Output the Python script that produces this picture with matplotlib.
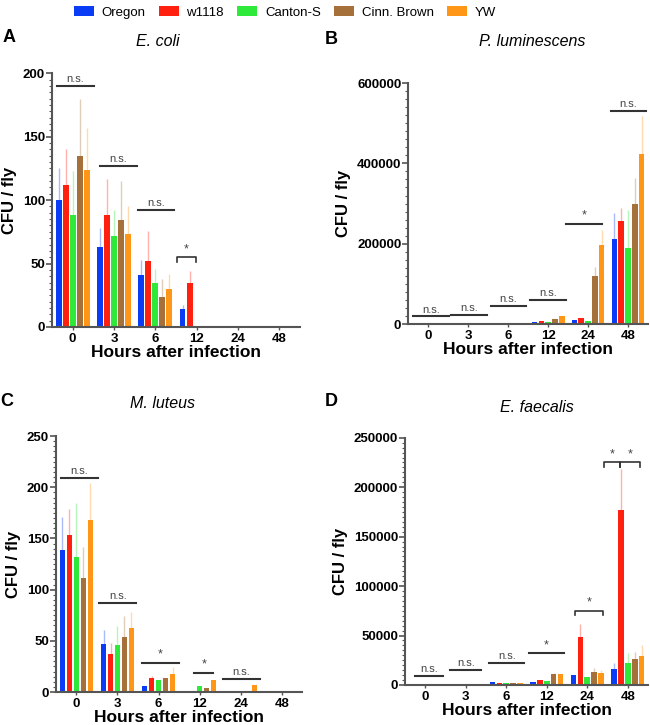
import numpy as np
import matplotlib
matplotlib.use("Agg")
import matplotlib.pyplot as plt
from matplotlib.ticker import AutoMinorLocator
from matplotlib.patches import Patch

plt.rcParams['font.family'] = ['Liberation Sans', 'DejaVu Sans']

hours = ['0', '3', '6', '12', '24', '48']
strains = ['Oregon', 'w1118', 'Canton-S', 'Cinn. Brown', 'YW']
colors = ['#0a3cf5', '#ff2010', '#2ee83a', '#a5703a', '#ff9618']

# mean CFU / fly, one row per strain, one column per time point
ecoli_mean = [[100, 63, 41, 14, 0, 0],
              [112, 88, 52, 35, 0, 0],
              [88, 72, 35, 0, 0, 0],
              [135, 84, 24, 0, 0, 0],
              [124, 73, 30, 0, 0, 0]]
ecoli_err = [[25, 15, 12, 3, 0, 0],
             [28, 29, 24, 9, 0, 0],
             [35, 20, 11, 0, 0, 0],
             [45, 31, 14, 0, 0, 0],
             [33, 22, 12, 0, 0, 0]]

plum_mean = [[500, 800, 2500, 4000, 10800, 211600],
             [500, 800, 2500, 6600, 15000, 255600],
             [500, 800, 2500, 5000, 8300, 189000],
             [500, 800, 2500, 12400, 120000, 298700],
             [500, 800, 2500, 20700, 197500, 424000]]
plum_err = [[0, 0, 0, 0, 0, 64000],
            [0, 0, 0, 0, 0, 34000],
            [0, 0, 0, 0, 0, 95000],
            [0, 0, 0, 0, 23000, 66000],
            [0, 0, 0, 0, 37000, 93000]]

mlut_mean = [[139, 47, 5.5, 0, 0, 0],
             [153, 37.5, 14, 0, 0, 0],
             [132, 45.6, 12, 5.5, 0, 0],
             [111, 54, 14, 4, 0, 0],
             [168, 62.6, 18, 11.4, 6.5, 0]]
mlut_err = [[32, 14, 0, 0, 0, 0],
            [26, 10, 2, 0, 0, 0],
            [53, 19, 0, 0, 0, 0],
            [31, 20, 0, 0, 0, 0],
            [36, 16, 6, 0, 0, 0]]

efae_mean = [[200, 500, 2700, 3400, 10100, 15900],
             [200, 500, 2400, 5000, 48300, 176700],
             [200, 500, 2400, 4400, 8400, 22000],
             [200, 500, 2000, 10800, 13500, 26000],
             [200, 500, 1700, 10800, 12500, 29700]]
efae_err = [[0, 0, 0, 0, 0, 6000],
            [0, 0, 0, 0, 13500, 41300],
            [0, 0, 0, 0, 0, 10000],
            [0, 0, 0, 1500, 3500, 7800],
            [0, 0, 0, 0, 2500, 10800]]

# significance marks: (x start, x end, height, label, bracket)
ecoli_sig = [(-0.38, 0.52, 190, 'n.s.', False), (0.66, 1.56, 127, 'n.s.', False),
             (1.58, 2.45, 92, 'n.s.', False), (2.52, 2.99, 55, '*', True)]
plum_sig = [(-0.37, 0.52, 19000, 'n.s.', False), (0.57, 1.47, 23000, 'n.s.', False),
            (1.56, 2.45, 44000, 'n.s.', False), (2.55, 3.45, 60600, 'n.s.', False),
            (3.45, 4.35, 250000, '*', False), (4.57, 5.45, 531000, 'n.s.', False)]
mlut_sig = [(-0.38, 0.52, 208.6, 'n.s.', False), (0.56, 1.46, 87, 'n.s.', False),
            (1.6, 2.5, 28.7, '*', False), (2.87, 3.33, 19, '*', False),
            (3.57, 4.46, 13, 'n.s.', False)]
efae_sig = [(-0.24, 0.44, 9100, 'n.s.', False), (0.62, 1.38, 15200, 'n.s.', False),
            (1.58, 2.45, 22000, 'n.s.', False), (2.55, 3.43, 32000, '*', False),
            (3.7, 4.38, 75300, '*', True), (4.41, 4.82, 225000, '*', True),
            (4.82, 5.29, 225000, '*', True)]

# letter, title, data, y max, major step, axes rect, letter xy, title xy (pixels)
panels = [
    ('A', 'E. coli', ecoli_mean, ecoli_err, ecoli_sig, 200, 50,
     [0.08, 0.549, 0.3815, 0.35], (3, 38), (158, 42)),
    ('B', 'P. luminescens', plum_mean, plum_err, plum_sig, 600000, 200000,
     [0.628, 0.553, 0.369, 0.3325], (325, 39), (532, 42)),
    ('C', 'M. luteus', mlut_mean, mlut_err, mlut_sig, 250, 50,
     [0.086, 0.0455, 0.379, 0.353], (0, 401), (163, 404)),
    ('D', 'E. faecalis', efae_mean, efae_err, efae_sig, 250000, 50000,
     [0.623, 0.0552, 0.374, 0.341], (325, 402), (537, 407)),
]

W, H = 650, 725
fig = plt.figure(figsize=(6.5, 7.25), dpi=100)
x = np.arange(len(hours))
width = 0.14
step = 0.17
spine_col = '#555555'

for letter, title, means, errs, sigs, ymax, major, rect, lxy, txy in panels:
    ax = fig.add_axes(rect)
    for i, (m, e) in enumerate(zip(means, errs)):
        pos = x + (i - 2) * step
        ax.bar(pos, m, width=width, color=colors[i], zorder=2)
        m = np.array(m, dtype=float)
        e = np.array(e, dtype=float)
        has = e > 0
        ax.vlines(pos[has], m[has], m[has] + e[has], color=colors[i],
                  alpha=0.35, lw=1.0, zorder=1)
    ax.set_xlim(-0.5, 5.5)
    ax.set_ylim(0, ymax)
    ax.set_xticks(x)
    ax.set_xticklabels(hours, fontweight='bold', fontsize=9.5)
    yt = np.arange(0, ymax + 1, major)
    ax.set_yticks(yt)
    ax.set_yticklabels([str(int(v)) for v in yt], fontweight='bold', fontsize=9.5)
    ax.yaxis.set_minor_locator(AutoMinorLocator(10))
    ax.tick_params(axis='y', which='major', length=4, width=1.2, color=spine_col, pad=1)
    ax.tick_params(axis='y', which='minor', length=2, width=0.8, color=spine_col)
    ax.tick_params(axis='x', length=2, width=1, color=spine_col, pad=2)
    for s in ['top', 'right']:
        ax.spines[s].set_visible(False)
    for s in ['left', 'bottom']:
        ax.spines[s].set_color(spine_col)
        ax.spines[s].set_linewidth(1.5)
    ax.set_ylabel('CFU / fly', fontweight='bold', fontsize=12)
    ax.set_xlabel('Hours after infection', fontweight='bold', fontsize=12.5, labelpad=0)
    fig.text(txy[0] / W, 1 - txy[1] / H, title, fontstyle='italic', fontsize=11.5,
             ha='center', va='center')
    fig.text(lxy[0] / W, 1 - lxy[1] / H, letter, fontweight='bold', fontsize=13,
             ha='left', va='center')

    for x0, x1, yv, lab, bracket in sigs:
        tick = ymax * 0.018
        if bracket:
            ax.plot([x0, x0, x1, x1], [yv - tick, yv, yv, yv - tick],
                    color='#333333', lw=1.2, clip_on=False)
        else:
            ax.plot([x0, x1], [yv, yv], color='#333333', lw=1.5, clip_on=False)
        ax.text((x0 + x1) / 2, yv + ymax * 0.008, lab, ha='center', va='bottom',
                fontsize=8 if lab != '*' else 9, color='#444444', clip_on=False)

handles = [Patch(facecolor=c, edgecolor='none') for c in colors]
fig.legend(handles, strains, loc='upper left', bbox_to_anchor=(62 / W, 1.008),
           ncol=5, frameon=False, fontsize=9.5, handlelength=1.5,
           handleheight=0.8, columnspacing=1.0, handletextpad=0.6)

fig.savefig('out.png', dpi=100)
